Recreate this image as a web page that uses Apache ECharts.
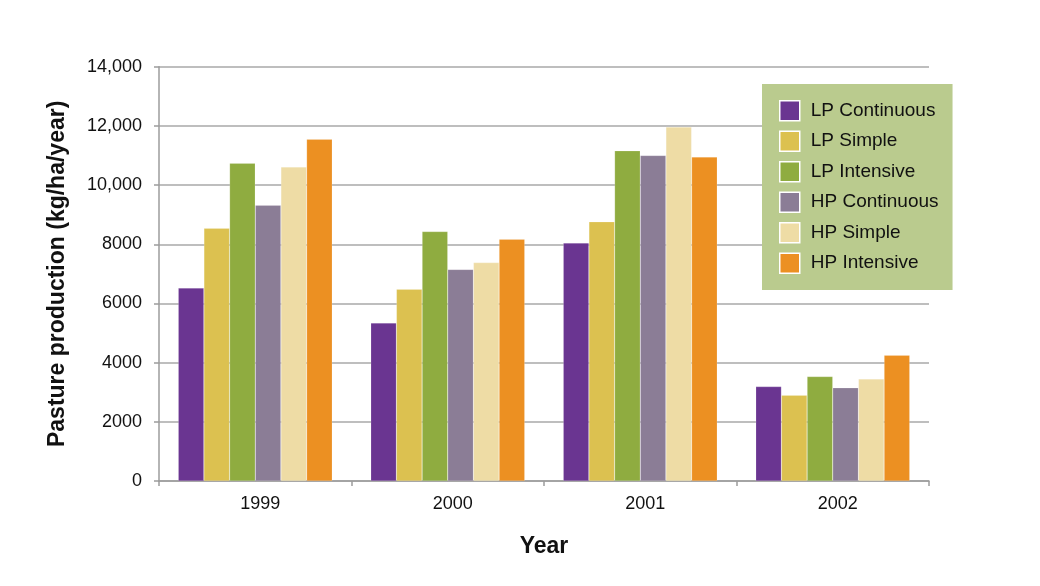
<!DOCTYPE html>
<html>
<head>
<meta charset="utf-8">
<script src="https://cdn.jsdelivr.net/npm/echarts@6/dist/echarts.min.js"></script>
<style>html,body{margin:0;padding:0;background:#fff}#chart{width:1040px;height:586px}</style>
</head>
<body>
<div id="chart"></div>
<script>
const years = ['1999', '2000', '2001', '2002'];
const seriesNames = ['LP Continuous', 'LP Simple', 'LP Intensive', 'HP Continuous', 'HP Simple', 'HP Intensive'];
const lpContinuous = [6520, 5340, 8040, 3190];
const lpSimple = [8540, 6480, 8760, 2900];
const lpIntensive = [10740, 8430, 11160, 3530];
const hpContinuous = [9320, 7150, 11000, 3150];
const hpSimple = [10610, 7380, 11960, 3450];
const hpIntensive = [11550, 8170, 10950, 4250];
const seriesColors = ['#6a3591', '#dcc150', '#8fac40', '#8b7d96', '#eedca5', '#ec9022'];

const allValues = [lpContinuous, lpSimple, lpIntensive, hpContinuous, hpSimple, hpIntensive];
const font = 'Liberation Sans, Arial, Helvetica, sans-serif';

const chart = echarts.init(document.getElementById('chart'));
chart.setOption({
  animation: false,
  backgroundColor: '#ffffff',
  textStyle: { fontFamily: font, color: '#111' },
  grid: { left: 159, right: 111, top: 66.7, bottom: 105, containLabel: false },
  legend: {
    orient: 'vertical',
    left: 762,
    top: 84,
    width: 190,
    padding: [16, 14, 16, 17],
    backgroundColor: '#bacb8e',
    itemWidth: 20,
    itemHeight: 20,
    itemGap: 9,
    icon: 'rect',
    itemStyle: { borderColor: '#ffffff', borderWidth: 1.5 },
    textStyle: { fontSize: 19, color: '#111', fontFamily: font, padding: [0, 0, 0, 6] },
    data: seriesNames
  },
  xAxis: {
    type: 'category',
    data: years,
    name: 'Year',
    nameLocation: 'middle',
    nameGap: 54,
    nameTextStyle: { fontSize: 23, fontWeight: 'bold', color: '#111' },
    axisLine: { lineStyle: { color: '#9c9c9c', width: 1.5 } },
    axisTick: { show: true, length: 5, lineStyle: { color: '#9c9c9c', width: 1.5 } },
    axisLabel: { fontSize: 18, color: '#111', margin: 14, padding: [0, 0, 0, 10] }
  },
  yAxis: {
    type: 'value',
    min: 0,
    max: 14000,
    interval: 2000,
    name: 'Pasture production (kg/ha/year)',
    nameLocation: 'middle',
    nameGap: 90,
    nameTextStyle: { fontSize: 23, fontWeight: 'bold', color: '#111' },
    axisLine: { show: true, lineStyle: { color: '#9c9c9c', width: 1.5 } },
    axisTick: { show: true, length: 5, lineStyle: { color: '#9c9c9c', width: 1.5 } },
    splitLine: { lineStyle: { color: '#a8a8a8', width: 1.5 } },
    axisLabel: {
      fontSize: 18, color: '#111', margin: 17,
      formatter: v => v >= 10000 ? v.toLocaleString('en-US') : String(v)
    }
  },
  series: seriesNames.map((name, i) => ({
    name: name,
    type: 'bar',
    data: allValues[i],
    barGap: '0%',
    barCategoryGap: '20%',
    itemStyle: { color: seriesColors[i], borderColor: 'rgba(255,255,255,0.35)', borderWidth: 0.5 }
  }))
});
</script>
</body>
</html>
